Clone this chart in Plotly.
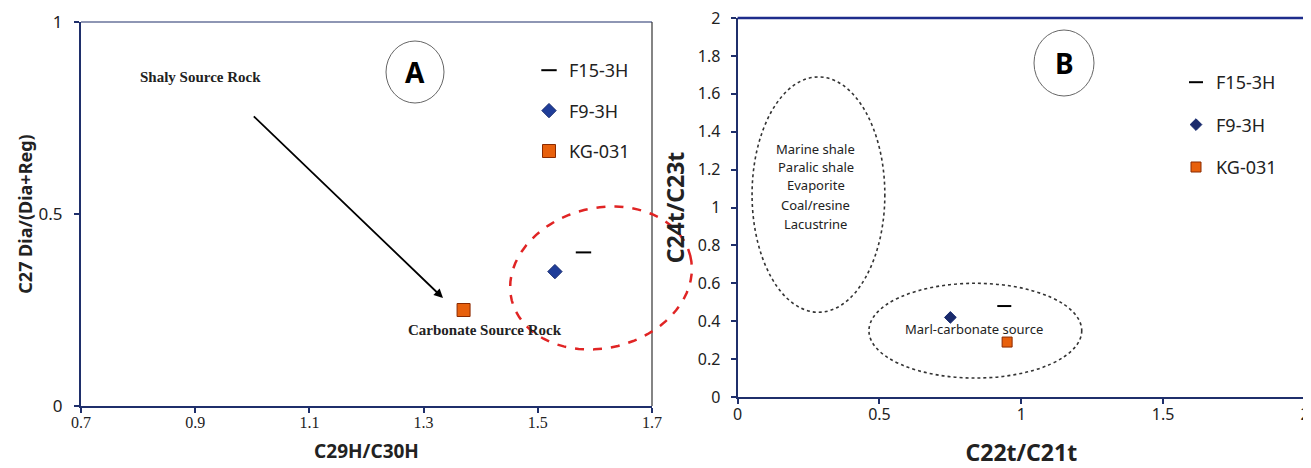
import numpy as np
import plotly.graph_objects as go

# ---- Panel A data ----
wells = ["F15-3H", "F9-3H", "KG-031"]
a_x = [1.58, 1.53, 1.37]   # C29H/C30H
a_y = [0.40, 0.35, 0.25]   # C27 Dia/(Dia+Reg)
a_xticks = [0.7, 0.9, 1.1, 1.3, 1.5, 1.7]
a_yticks = [0, 0.5, 1]

# ---- Panel B data ----
b_x = [0.94, 0.75, 0.95]   # C22t/C21t
b_y = [0.48, 0.42, 0.29]   # C24t/C23t
b_xticks = [0, 0.5, 1, 1.5, 2]
b_yticks = [0, 0.2, 0.4, 0.6, 0.8, 1, 1.2, 1.4, 1.6, 1.8, 2]

# ---- Panel B source-rock zone labels ----
zone_lines = ["Marine shale", "Paralic shale", "Evaporite", "Coal/resine", "Lacustrine"]
zone_line_y = [1.31, 1.215, 1.12, 1.015, 0.915]

symbols = ["line-ew", "diamond", "square"]
colors_a = ["black", "#1F3D99", "#E8600C"]
colors_b = ["black", "#1A2A6C", "#E8600C"]
lines_a = ["black", "#14286E", "#8B2A00"]
sizes_a = [11, 11, 13]
sizes_b = [10, 9, 10]

NAVY = "#1F2F6B"
SANS = "Noto Sans, Liberation Sans, Arial"
SERIF = "Liberation Serif, Times New Roman, serif"

# page body has an 8px margin: figure is placed at (8, 8) in the window
W, H, OFF = 1303, 460, 8


def px(X):
    return (X - OFF) / W


def py(Y):
    return (H - (Y - OFF)) / H


def tilted_ellipse_path(cx, cy, a, b, deg, n=72):
    t = np.linspace(0, 2 * np.pi, n, endpoint=False)
    r = np.deg2rad(deg)
    X = cx + a * np.cos(t) * np.cos(r) + b * np.sin(t) * np.sin(r)
    Y = cy - a * np.cos(t) * np.sin(r) + b * np.sin(t) * np.cos(r)
    pts = [f"{px(x):.5f},{py(y):.5f}" for x, y in zip(X, Y)]
    return "M " + " L ".join(pts) + " Z"


fig = go.Figure()

for i, w in enumerate(wells):
    fig.add_trace(go.Scatter(
        x=[a_x[i]], y=[a_y[i]], mode="markers", name=w,
        legend="legend", legendgroup="a" + w,
        marker=dict(symbol=symbols[i], size=sizes_a[i], color=colors_a[i],
                    line=dict(color=lines_a[i], width=2 if i == 0 else 1)),
        xaxis="x", yaxis="y", cliponaxis=False))

for i, w in enumerate(wells):
    fig.add_trace(go.Scatter(
        x=[b_x[i]], y=[b_y[i]], mode="markers", name=w,
        legend="legend2", legendgroup="b" + w,
        marker=dict(symbol=symbols[i], size=sizes_b[i], color=colors_b[i],
                    line=dict(color=lines_a[i], width=2 if i == 0 else 1)),
        xaxis="x2", yaxis="y2", cliponaxis=False))

axis_common = dict(showgrid=False, zeroline=False, showline=True, ticks="outside",
                   ticklen=5, tickwidth=1.5, tickcolor=NAVY, linewidth=2, linecolor=NAVY,
                   automargin=False, ticklabeloverflow="allow")

fig.update_layout(
    width=W, height=H,
    margin=dict(l=0, r=0, t=0, b=0, autoexpand=False),
    paper_bgcolor="white", plot_bgcolor="white",
    showlegend=True,
    xaxis=dict(domain=[px(81), px(652)], range=[0.7, 1.7], tickvals=a_xticks,
               ticktext=[f"{v:.1f}" for v in a_xticks], ticklabelstandoff=-4,
               tickfont=dict(family=SERIF, size=16, color="#222"),
               title=dict(text="<b>C29H/C30H</b>", font=dict(family=SANS, size=19, color="#222"), standoff=14),
               anchor="y", **axis_common),
    yaxis=dict(domain=[py(406), py(22)], range=[0, 1], tickvals=a_yticks,
               ticktext=["0", "0.5", "1"], ticklabelstandoff=8,
               tickfont=dict(family=SANS, size=17, color="#222"),
               title=dict(text="<b>C27 Dia/(Dia+Reg)</b>", font=dict(family=SANS, size=18, color="#222"), standoff=1),
               anchor="x", **axis_common),
    xaxis2=dict(domain=[px(737.6), px(1305)], range=[0, 2], tickvals=b_xticks,
                ticktext=["0", "0.5", "1", "1.5", "2"], ticklabelstandoff=-3,
                tickfont=dict(family=SANS, size=16, color="#222"),
                title=dict(text="<b>C22t/C21t</b>", font=dict(family=SANS, size=23, color="#222"), standoff=25),
                anchor="y2", **axis_common),
    yaxis2=dict(domain=[py(397), py(18)], range=[0, 2], tickvals=b_yticks,
                ticktext=[f"{v:g}" for v in b_yticks], ticklabelstandoff=7,
                tickfont=dict(family=SANS, size=16, color="#222"),
                title=dict(text="<b>C24t/C23t</b>", font=dict(family=SANS, size=23, color="#222"), standoff=7),
                anchor="x2", **axis_common),
    legend=dict(x=px(529), y=py(52), xanchor="left", yanchor="top",
                bgcolor="rgba(0,0,0,0)", traceorder="grouped", tracegroupgap=14,
                itemwidth=30, font=dict(family=SANS, size=18, color="#222")),
    legend2=dict(x=px(1176), y=py(64), xanchor="left", yanchor="top",
                 bgcolor="rgba(0,0,0,0)", traceorder="grouped", tracegroupgap=16,
                 itemwidth=30, font=dict(family=SANS, size=18, color="#222")),
)

shapes = [
    # panel A top/right border
    dict(type="line", xref="x domain", yref="y domain", x0=0, x1=1, y0=1, y1=1,
         line=dict(color=NAVY, width=1.2)),
    dict(type="line", xref="x domain", yref="y domain", x0=1, x1=1, y0=0, y1=1,
         line=dict(color="#333", width=1.2)),
    # panel B top/right border
    dict(type="line", xref="x2 domain", yref="y2 domain", x0=0, x1=1, y0=1, y1=1,
         line=dict(color="#1E2D8C", width=2.5)),
    dict(type="line", xref="x2 domain", yref="y2 domain", x0=1, x1=1, y0=0, y1=1,
         line=dict(color="#444", width=1.2)),
    # red dashed, slightly tilted ellipse (panel A), extends beyond the plot
    dict(type="path", xref="paper", yref="paper",
         path=tilted_ellipse_path(601, 278, 92, 70, 14),
         line=dict(color="#E02424", width=2.5, dash="dash")),
    # circle around "A"
    dict(type="circle", xref="paper", yref="paper", x0=px(415 - 29), x1=px(415 + 29),
         y0=py(72 + 31), y1=py(72 - 31), line=dict(color="#666", width=1)),
    # circle around "B"
    dict(type="circle", xref="paper", yref="paper", x0=px(1064 - 30), x1=px(1064 + 30),
         y0=py(63 + 33), y1=py(63 - 33), line=dict(color="#666", width=1)),
    # dotted ellipses (panel B)
    dict(type="circle", xref="x2", yref="y2", x0=0.051, x1=0.519, y0=0.447, y1=1.689,
         line=dict(color="#333", width=1.6, dash="dot")),
    dict(type="circle", xref="x2", yref="y2", x0=0.463, x1=1.213, y0=0.10, y1=0.60,
         line=dict(color="#333", width=1.6, dash="dot")),
]
fig.update_layout(shapes=shapes)

annotations = [
    dict(text="<b>A</b>", xref="paper", yref="paper", x=px(415), y=py(72),
         xanchor="center", yanchor="middle",
         showarrow=False, font=dict(family=SANS, size=28, color="black")),
    dict(text="<b>B</b>", xref="paper", yref="paper", x=px(1064), y=py(63),
         xanchor="center", yanchor="middle",
         showarrow=False, font=dict(family=SANS, size=28, color="black")),
    dict(text="<b>Shaly Source Rock</b>", xref="x", yref="y", x=0.91, y=0.857,
         showarrow=False, font=dict(family=SERIF, size=15, color="#222")),
    dict(text="<b>Carbonate Source Rock</b>", xref="x", yref="y", x=1.408, y=0.198,
         showarrow=False, font=dict(family=SERIF, size=15, color="#222")),
    dict(text="", xref="x", yref="y", axref="x", ayref="y", x=1.334, y=0.281, ax=1.0, ay=0.758,
         showarrow=True, arrowhead=2, arrowsize=1, arrowwidth=1.8, arrowcolor="black"),
    dict(text="Marl-carbonate source", xref="x2", yref="y2", x=0.833, y=0.357,
         showarrow=False, font=dict(family=SANS, size=13, color="#222")),
]
for t, yy in zip(zone_lines, zone_line_y):
    annotations.append(dict(text=t, xref="x2", yref="y2", x=0.276, y=yy, showarrow=False,
                            font=dict(family=SANS, size=13, color="#222")))
fig.update_layout(annotations=annotations)

fig.write_html("out.html")
